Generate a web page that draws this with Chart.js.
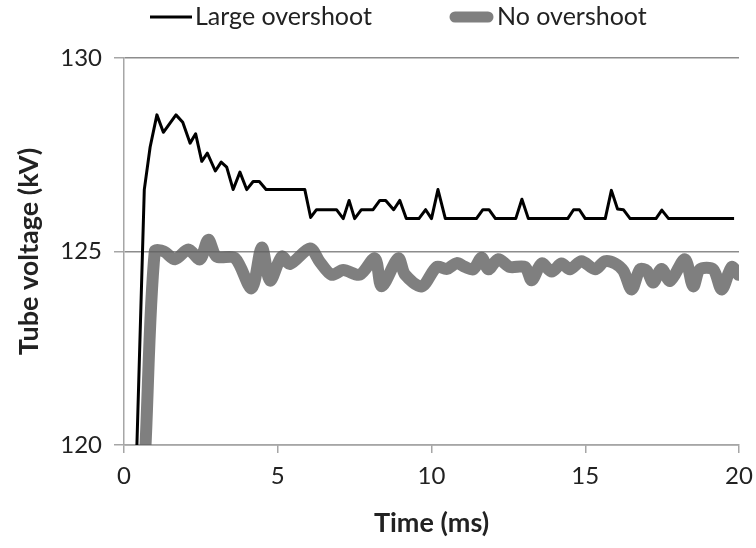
<!DOCTYPE html>
<html>
<head>
<meta charset="utf-8">
<script src="https://cdn.jsdelivr.net/npm/chart.js@4"></script>
<style>
  html, body { margin: 0; padding: 0; background: #fff; }
  #wrap { width: 756px; height: 548px; }
</style>
</head>
<body>
<div id="wrap"><canvas id="c" width="756" height="548"></canvas></div>
<script>
// Time (ms) and tube voltage (kV)
const largeTime = [0.42, 0.66, 0.85, 1.07, 1.28, 1.69, 1.91, 2.15, 2.33, 2.53, 2.71, 2.97, 3.16, 3.34, 3.55, 3.77, 3.99, 4.2, 4.4, 4.62, 5.88, 6.07, 6.26, 6.91, 7.13, 7.32, 7.5, 7.72, 8.1, 8.32, 8.51, 8.77, 8.97, 9.18, 9.59, 9.81, 10.0, 10.21, 10.45, 11.46, 11.67, 11.87, 12.08, 12.74, 12.94, 13.15, 14.43, 14.62, 14.81, 15.0, 15.65, 15.85, 16.05, 16.24, 16.46, 17.3, 17.49, 17.71, 19.84];
const largeVolt = [120, 126.6, 127.7, 128.53, 128.08, 128.53, 128.34, 127.8, 128.04, 127.33, 127.54, 127.08, 127.31, 127.18, 126.6, 127.05, 126.6, 126.81, 126.81, 126.6, 126.6, 125.88, 126.08, 126.08, 125.85, 126.32, 125.85, 126.08, 126.08, 126.32, 126.32, 126.08, 126.32, 125.85, 125.85, 126.08, 125.85, 126.6, 125.85, 125.85, 126.08, 126.08, 125.85, 125.85, 126.35, 125.85, 125.85, 126.08, 126.08, 125.85, 125.85, 126.58, 126.1, 126.08, 125.85, 125.85, 126.07, 125.85, 125.85];

const noTime = [0.7, 1.0, 1.3, 1.66, 2.09, 2.47, 2.74, 3.01, 3.61, 4.15, 4.48, 4.75, 5.13, 5.4, 6.05, 6.37, 6.75, 7.13, 7.67, 8.16, 8.38, 8.92, 9.14, 9.68, 10.17, 10.5, 10.82, 11.09, 11.36, 11.63, 11.85, 12.17, 12.55, 13.04, 13.26, 13.58, 13.91, 14.23, 14.5, 14.88, 15.32, 15.64, 15.97, 16.24, 16.51, 16.78, 17.0, 17.21, 17.48, 17.76, 18.24, 18.51, 18.73, 19.16, 19.44, 19.76, 19.98];
const noVolt = [120, 125.0, 125.0, 124.8, 125.05, 124.8, 125.3, 124.87, 124.83, 124.05, 125.1, 124.25, 124.87, 124.68, 125.08, 124.73, 124.4, 124.52, 124.4, 124.82, 124.1, 124.82, 124.4, 124.1, 124.6, 124.55, 124.7, 124.6, 124.54, 124.84, 124.54, 124.8, 124.6, 124.6, 124.26, 124.69, 124.48, 124.69, 124.54, 124.75, 124.54, 124.75, 124.69, 124.5, 124.02, 124.54, 124.5, 124.2, 124.55, 124.24, 124.8, 124.1, 124.54, 124.54, 124.02, 124.6, 124.4];

const seriesNames = ['Large overshoot', 'No overshoot'];
const xTicks = [0, 5, 10, 15, 20];
const yTicks = [120, 125, 130];
const xTitle = 'Time (ms)';
const yTitle = 'Tube voltage (kV)';

const toPts = (xs, ys) => xs.map((x, i) => ({ x: x, y: ys[i] }));
const FONT = 'Lato, "Open Sans", sans-serif';
const TEXT = '#222';

// Simple top legend drawn on the canvas (line samples + labels)
const topLegend = {
  id: 'topLegend',
  afterDraw(chart) {
    const ctx = chart.ctx;
    const items = [
      { x0: 150, x1: 192, tx: 195 },
      { x0: 450, x1: 493, tx: 497 }
    ];
    const y = 17;
    ctx.save();
    chart.data.datasets.forEach((ds, i) => {
      const it = items[i];
      ctx.beginPath();
      ctx.strokeStyle = ds.borderColor;
      ctx.lineWidth = i === 0 ? 3 : 11;
      ctx.lineCap = i === 0 ? 'butt' : 'round';
      const inset = i === 0 ? 0 : 5;
      ctx.moveTo(it.x0 + inset, y);
      ctx.lineTo(it.x1 - inset, y);
      ctx.stroke();
      ctx.fillStyle = TEXT;
      ctx.font = '25px ' + FONT;
      ctx.textBaseline = 'middle';
      ctx.textAlign = 'left';
      ctx.fillText(ds.label, it.tx, y);
    });
    ctx.restore();
  }
};

new Chart(document.getElementById('c'), {
  type: 'line',
  data: {
    datasets: [
      {
        label: seriesNames[0],
        data: toPts(largeTime, largeVolt),
        borderColor: '#000',
        backgroundColor: '#000',
        borderWidth: 3,
        pointRadius: 0,
        tension: 0,
        borderJoinStyle: 'round'
      },
      {
        label: seriesNames[1],
        data: toPts(noTime, noVolt),
        borderColor: 'rgba(95,95,95,0.8)',
        backgroundColor: 'rgba(95,95,95,0.8)',
        borderWidth: 12,
        pointRadius: 0,
        tension: 0.3,
        borderJoinStyle: 'round',
        borderCapStyle: 'round'
      }
    ]
  },
  options: {
    responsive: false,
    animation: false,
    layout: { padding: { left: 0, right: 17, top: 58, bottom: 0 } },
    plugins: {
      tooltip: { enabled: false },
      legend: { display: false }
    },
    scales: {
      x: {
        type: 'linear',
        min: 0, max: 20,
        afterBuildTicks: (s) => { s.ticks = xTicks.map(v => ({ value: v })); },
        afterFit: (s) => { s.height = 103; s.paddingRight = 0; s.paddingLeft = 0; },
        ticks: { color: TEXT, font: { family: FONT, size: 24 }, padding: 9, maxRotation: 0 },
        grid: { drawOnChartArea: false, drawTicks: true, tickLength: 8, color: '#a6a6a6', lineWidth: 1.5 },
        border: { color: '#a6a6a6', width: 1.5 },
        title: { display: true, text: xTitle, color: TEXT, font: { family: FONT, size: 27, weight: 'bold' }, padding: { top: 4, bottom: 9 } }
      },
      y: {
        type: 'linear',
        min: 120, max: 130,
        afterBuildTicks: (s) => { s.ticks = yTicks.map(v => ({ value: v })); },
        afterFit: (s) => { s.width = 124; s.paddingTop = 0; s.paddingBottom = 0; },
        ticks: { color: TEXT, font: { family: FONT, size: 24 }, padding: 12 },
        grid: { drawTicks: true, tickLength: 10, color: '#8c8c8c', lineWidth: 1.5, tickColor: '#a6a6a6' },
        border: { color: '#a6a6a6', width: 1.5 },
        title: { display: true, text: yTitle, color: TEXT, font: { family: FONT, size: 27, weight: 'bold' }, padding: { top: 13, bottom: 4 } }
      }
    }
  },
  plugins: [topLegend]
});
</script>
</body>
</html>
